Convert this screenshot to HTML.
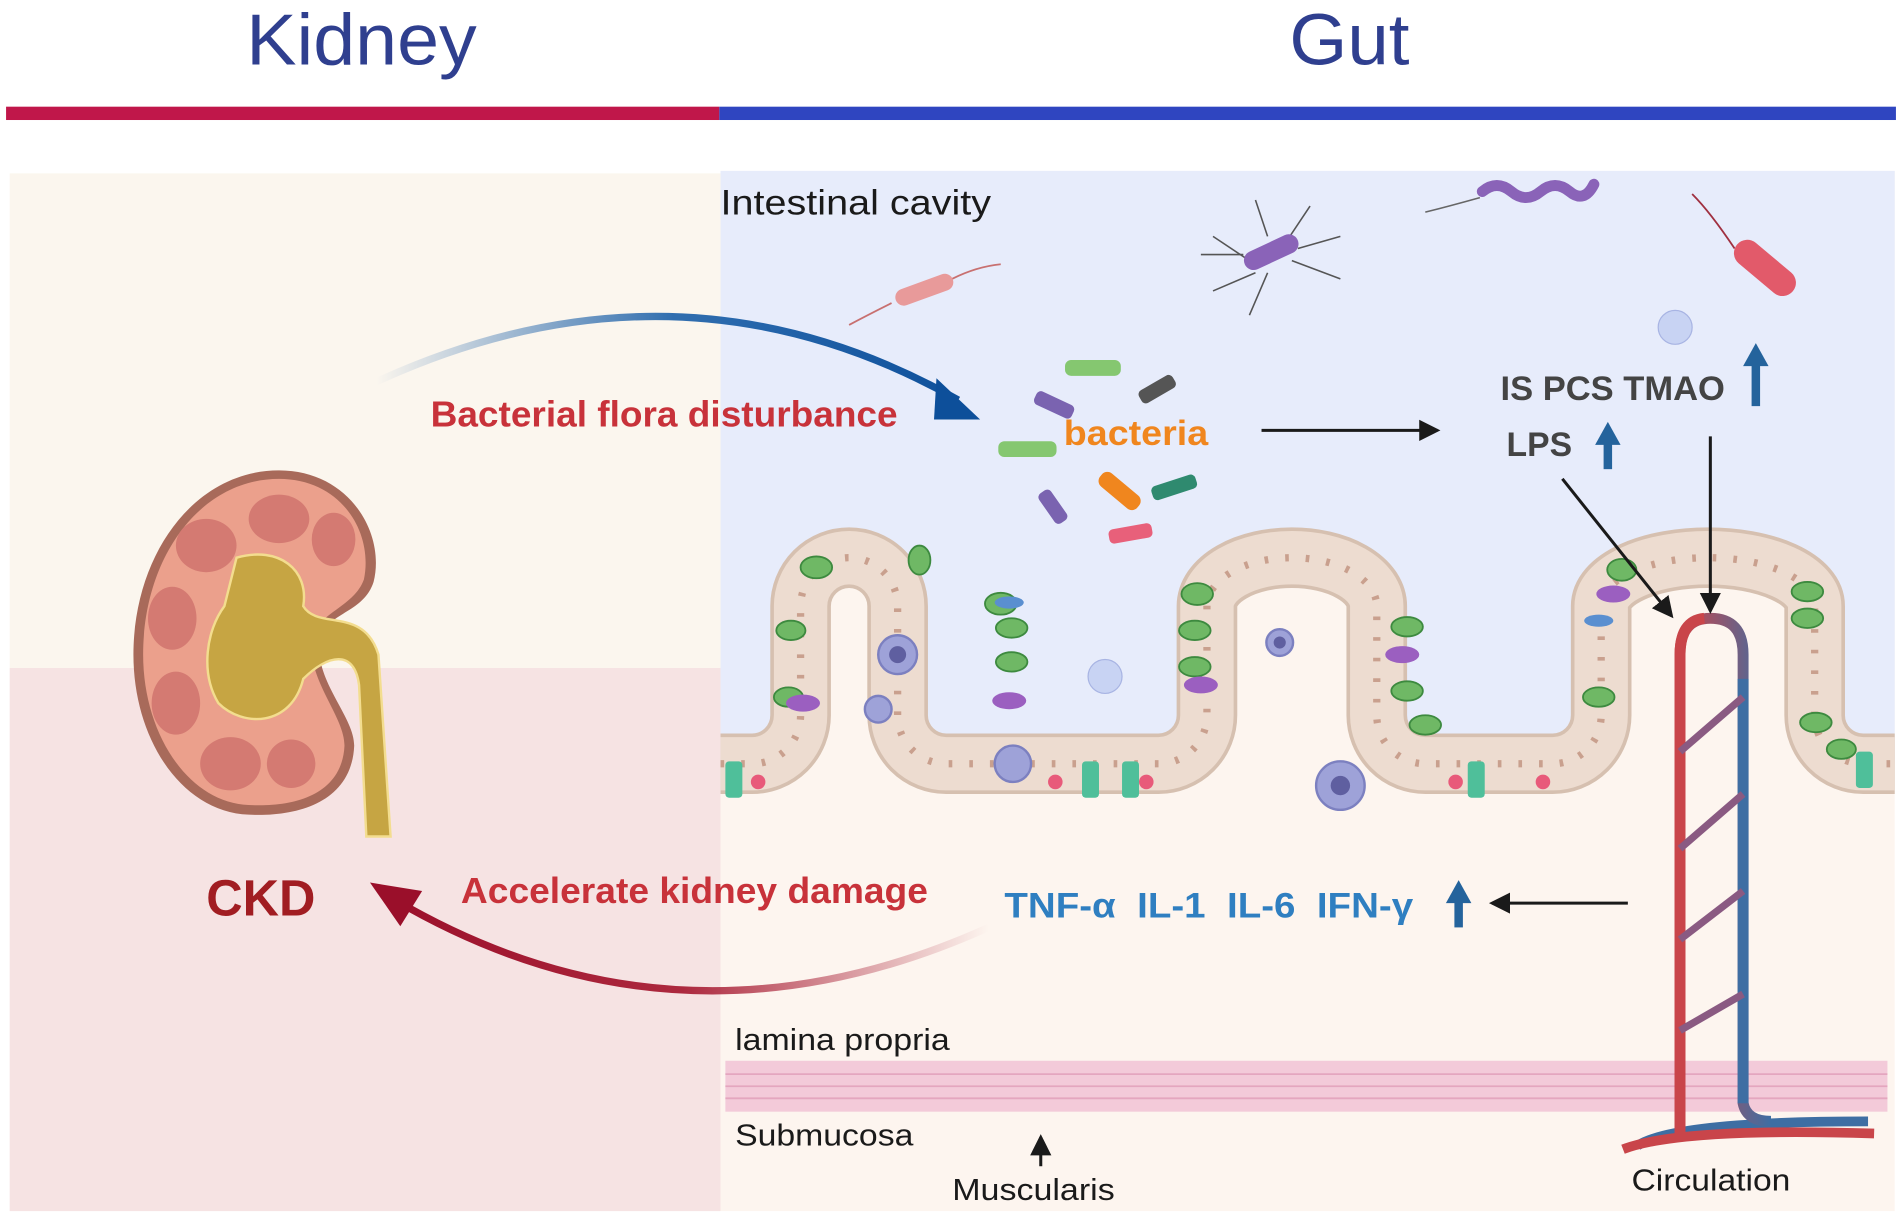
<!DOCTYPE html>
<html><head><meta charset="utf-8"><style>
html,body{margin:0;padding:0;background:#fff;}
svg{display:block;}
text{font-family:"Liberation Sans",sans-serif;}
</style></head><body>
<svg width="1902" height="1222" viewBox="0 0 1568 1008" preserveAspectRatio="none" xmlns="http://www.w3.org/2000/svg">
<defs>
<linearGradient id="g1" x1="310" y1="0" x2="800" y2="0" gradientUnits="userSpaceOnUse">
<stop offset="0" stop-color="#1a5fa8" stop-opacity="0"/><stop offset="0.5" stop-color="#1a5fa8" stop-opacity="0.9"/><stop offset="1" stop-color="#0d4f9a"/></linearGradient>
<linearGradient id="g2" x1="815" y1="0" x2="310" y2="0" gradientUnits="userSpaceOnUse">
<stop offset="0" stop-color="#a4142c" stop-opacity="0"/><stop offset="0.5" stop-color="#a4142c" stop-opacity="0.9"/><stop offset="1" stop-color="#9a0f2a"/></linearGradient>
<linearGradient id="vg" x1="0" y1="0" x2="1" y2="0"><stop offset="0" stop-color="#c9454a"/><stop offset="1" stop-color="#3e6ea3"/></linearGradient>
<marker id="ah" markerWidth="8" markerHeight="8" refX="6" refY="4" orient="auto" markerUnits="strokeWidth"><path d="M0,0.5 L7,4 L0,7.5 Z" fill="#1a1a1a"/></marker>
</defs>
<!-- titles -->
<text x="203" y="53" font-size="60" fill="#2f3f8f" textLength="190" lengthAdjust="spacingAndGlyphs">Kidney</text>
<text x="1063" y="53" font-size="60" fill="#2f3f8f" textLength="99" lengthAdjust="spacingAndGlyphs">Gut</text>
<rect x="5" y="88" width="588" height="11" fill="#c0174a"/>
<rect x="593" y="88" width="970" height="11" fill="#2f45c0"/>
<!-- left panel -->
<rect x="8" y="143" width="586" height="408" fill="#fbf6ee"/>
<rect x="8" y="551" width="586" height="448" fill="#f6e3e3"/>
<!-- right panel -->
<rect x="594" y="141" width="968" height="858" fill="#fdf5ef"/>
<path d="M594,630 H620 A40,40 0 0 0 660,590 V500 A40,40 0 0 1 740,500 V590 A40,40 0 0 0 780,630 H955 A40,40 0 0 0 995,590 V500 A70,40 0 0 1 1135,500 V590 A40,40 0 0 0 1175,630 H1280 A40,40 0 0 0 1320,590 V500 A88,40 0 0 1 1496,500 V590 A40,40 0 0 0 1536,630 H1562 V141 H594 Z" fill="#e7ecfb"/>
<path d="M594,630 H620 A40,40 0 0 0 660,590 V500 A40,40 0 0 1 740,500 V590 A40,40 0 0 0 780,630 H955 A40,40 0 0 0 995,590 V500 A70,40 0 0 1 1135,500 V590 A40,40 0 0 0 1175,630 H1280 A40,40 0 0 0 1320,590 V500 A88,40 0 0 1 1496,500 V590 A40,40 0 0 0 1536,630 H1562" fill="none" stroke="#d6c0b0" stroke-width="50"/>
<path d="M594,630 H620 A40,40 0 0 0 660,590 V500 A40,40 0 0 1 740,500 V590 A40,40 0 0 0 780,630 H955 A40,40 0 0 0 995,590 V500 A70,40 0 0 1 1135,500 V590 A40,40 0 0 0 1175,630 H1280 A40,40 0 0 0 1320,590 V500 A88,40 0 0 1 1496,500 V590 A40,40 0 0 0 1536,630 H1562" fill="none" stroke="#eddcd0" stroke-width="44"/>
<path d="M594,630 H620 A40,40 0 0 0 660,590 V500 A40,40 0 0 1 740,500 V590 A40,40 0 0 0 780,630 H955 A40,40 0 0 0 995,590 V500 A70,40 0 0 1 1135,500 V590 A40,40 0 0 0 1175,630 H1280 A40,40 0 0 0 1320,590 V500 A88,40 0 0 1 1496,500 V590 A40,40 0 0 0 1536,630 H1562" fill="none" stroke="#c9a08e" stroke-width="6" stroke-dasharray="3 14"/>
<!-- goblet cells -->
<g fill="#6fb865" stroke="#3d8a3f" stroke-width="1.5">
<ellipse cx="673" cy="468" rx="13" ry="9"/><ellipse cx="758" cy="462" rx="9" ry="12"/><ellipse cx="652" cy="520" rx="12" ry="8"/><ellipse cx="650" cy="575" rx="12" ry="8"/><ellipse cx="825" cy="498" rx="13" ry="9"/><ellipse cx="834" cy="518" rx="13" ry="8"/><ellipse cx="834" cy="546" rx="13" ry="8"/><ellipse cx="987" cy="490" rx="13" ry="9"/><ellipse cx="985" cy="520" rx="13" ry="8"/><ellipse cx="985" cy="550" rx="13" ry="8"/><ellipse cx="1160" cy="517" rx="13" ry="8"/><ellipse cx="1160" cy="570" rx="13" ry="8"/><ellipse cx="1175" cy="598" rx="13" ry="8"/><ellipse cx="1337" cy="470" rx="12" ry="9"/><ellipse cx="1318" cy="575" rx="13" ry="8"/><ellipse cx="1490" cy="488" rx="13" ry="8"/><ellipse cx="1490" cy="510" rx="13" ry="8"/><ellipse cx="1497" cy="596" rx="13" ry="8"/><ellipse cx="1518" cy="618" rx="12" ry="8"/>
</g>
<g fill="#9b5fc0"><ellipse cx="662" cy="580" rx="14" ry="7"/><ellipse cx="832" cy="578" rx="14" ry="7"/><ellipse cx="990" cy="565" rx="14" ry="7"/><ellipse cx="1156" cy="540" rx="14" ry="7"/><ellipse cx="1330" cy="490" rx="14" ry="7"/></g>
<g fill="#5a8fd0"><ellipse cx="832" cy="497" rx="12" ry="5"/><ellipse cx="1318" cy="512" rx="12" ry="5"/></g>
<g fill="#e85a7a"><circle cx="625" cy="645" r="6"/><circle cx="870" cy="645" r="6"/><circle cx="945" cy="645" r="6"/><circle cx="1200" cy="645" r="6"/><circle cx="1272" cy="645" r="6"/></g>
<g fill="#4fbf9a"><rect x="598" y="628" width="14" height="30" rx="3"/><rect x="892" y="628" width="14" height="30" rx="3"/><rect x="925" y="628" width="14" height="30" rx="3"/><rect x="1210" y="628" width="14" height="30" rx="3"/><rect x="1530" y="620" width="14" height="30" rx="3"/></g>
<!-- immune cells -->
<g fill="#9ea2d8" stroke="#7c80c0" stroke-width="2">
<circle cx="740" cy="540" r="16"/><circle cx="724" cy="585" r="11"/><circle cx="835" cy="630" r="15"/><circle cx="1055" cy="530" r="11"/><circle cx="1105" cy="648" r="20"/></g>
<g fill="#5f5fa0"><circle cx="740" cy="540" r="7"/><circle cx="1105" cy="648" r="8"/><circle cx="1055" cy="530" r="5"/></g>
<circle cx="911" cy="558" r="14" fill="#c8d3f3" stroke="#a8b4e3"/>
<circle cx="1381" cy="270" r="14" fill="#c8d3f3" stroke="#a8b4e3"/>
<!-- muscle layer -->
<rect x="598" y="875" width="958" height="42" fill="#f3cad9"/>
<g stroke="#e4a6bf" stroke-width="1.5"><line x1="598" y1="886" x2="1556" y2="886"/><line x1="598" y1="896" x2="1556" y2="896"/><line x1="598" y1="906" x2="1556" y2="906"/></g>
<!-- vessels -->
<path d="M1350,945 Q1380,925 1540,925" fill="none" stroke="#3e6ea3" stroke-width="8"/>
<path d="M1338,948 Q1385,930 1545,935" fill="none" stroke="#c9454a" stroke-width="8"/>
<path d="M1385,935 V540 Q1385,510 1410,510 Q1437,510 1437,540 V910 Q1440,925 1460,925" fill="none" stroke="url(#vg)" stroke-width="9"/>
<path d="M1385,935 V540 Q1385,512 1405,510" fill="none" stroke="#c9454a" stroke-width="9"/>
<path d="M1437,560 V910" fill="none" stroke="#3e6ea3" stroke-width="9"/>
<g fill="none" stroke="#8a5a82" stroke-width="6">
<path d="M1385,620 L1437,575"/><path d="M1385,700 L1437,655"/><path d="M1385,775 L1437,735"/><path d="M1385,850 L1437,820"/></g>
<!-- bacteria -->
<g fill="none" stroke="#c87070" stroke-width="1.5"><path d="M700,268 q15,-8 35,-18"/><path d="M785,230 q20,-10 40,-12"/></g>
<rect x="737" y="232" width="50" height="14" rx="7" fill="#e89a9a" transform="rotate(-20 762 239)"/>
<g fill="none" stroke="#555" stroke-width="1.3"><path d="M1030,215 l-30,-20"/><path d="M1035,225 l-35,15"/><path d="M1045,225 l-15,35"/><path d="M1060,200 l20,-30"/><path d="M1070,205 l35,-10"/><path d="M1065,215 l40,15"/><path d="M1045,195 l-10,-30"/><path d="M1025,210 l-35,0"/></g>
<rect x="1024" y="200" width="48" height="16" rx="8" fill="#8a63b8" transform="rotate(-25 1048 208)"/>
<path d="M1175,175 q20,-5 45,-12" fill="none" stroke="#666" stroke-width="1.3"/>
<path d="M1222,158 q12,-10 24,0 t24,0 t24,0 t20,-6" fill="none" stroke="#8a63b8" stroke-width="9" stroke-linecap="round"/>
<path d="M1430,205 q-20,-30 -35,-45" fill="none" stroke="#a03040" stroke-width="1.5"/>
<rect x="1425" y="210" width="60" height="22" rx="11" fill="#e25a6a" transform="rotate(40 1455 221)"/>
<rect x="878" y="297" width="46" height="13" rx="5" fill="#85c770"/>
<rect x="852" y="328" width="34" height="12" rx="4" fill="#7a63b0" transform="rotate(25 869 334)"/>
<rect x="938" y="315" width="32" height="12" rx="4" fill="#555" transform="rotate(-30 954 321)"/>
<rect x="823" y="364" width="48" height="13" rx="5" fill="#85c770"/>
<rect x="853" y="412" width="30" height="12" rx="4" fill="#7a63b0" transform="rotate(55 868 418)"/>
<rect x="903" y="398" width="40" height="14" rx="6" fill="#f0861e" transform="rotate(40 923 405)"/>
<rect x="949" y="396" width="38" height="12" rx="4" fill="#2f8a6f" transform="rotate(-18 968 402)"/>
<rect x="914" y="434" width="36" height="12" rx="4" fill="#e8607a" transform="rotate(-10 932 440)"/>
<!-- kidney -->
<path d="M230,388 C288,388 318,440 308,480 C300,505 272,505 264,525 C257,560 292,590 292,615 C290,662 245,674 205,672 C150,670 110,610 110,540 C110,458 160,388 230,388 Z" fill="#a86a5a"/>
<path d="M230,395 C282,395 308,440 300,478 C292,500 264,505 257,525 C252,560 284,590 284,615 C282,657 240,666 205,664 C155,662 118,605 118,540 C118,460 165,395 230,395 Z" fill="#eba08c"/>
<g fill="#d47a72"><ellipse cx="230" cy="428" rx="25" ry="20"/><ellipse cx="170" cy="450" rx="25" ry="22"/><ellipse cx="142" cy="510" rx="20" ry="26"/><ellipse cx="145" cy="580" rx="20" ry="26"/><ellipse cx="190" cy="630" rx="25" ry="22"/><ellipse cx="275" cy="445" rx="18" ry="22"/><ellipse cx="240" cy="630" rx="20" ry="20"/></g>
<path d="M195,460 C230,450 255,470 250,500 C262,520 300,500 312,540 L322,690 L302,690 L296,565 C292,535 270,540 250,560 C240,600 200,600 180,580 C165,555 170,520 185,500 Z" fill="#c6a543" stroke="#f3dd8f" stroke-width="2"/>
<!-- arrows -->
<path d="M310,315 Q560,200 790,330" fill="none" stroke="url(#g1)" stroke-width="6"/>
<path d="M772,312 L808,346 L770,346 Z" fill="#0d4f9a"/>
<path d="M815,765 Q560,880 325,742" fill="none" stroke="url(#g2)" stroke-width="6"/>
<path d="M305,728 L348,735 L330,764 Z" fill="#9a0f2a"/>
<g stroke="#1a1a1a" stroke-width="2.5" fill="none">
<line x1="1040" y1="355" x2="1185" y2="355" marker-end="url(#ah)"/>
<line x1="1288" y1="395" x2="1378" y2="508" marker-end="url(#ah)"/>
<line x1="1410" y1="360" x2="1410" y2="504" marker-end="url(#ah)"/>
<line x1="1342" y1="745" x2="1230" y2="745" marker-end="url(#ah)"/>
<line x1="858" y1="962" x2="858" y2="938" marker-end="url(#ah)"/>
</g>
<g fill="#24639c">
<rect x="1444" y="300" width="7" height="35"/><path d="M1437,302 L1447.5,283 L1458,302 Z"/>
<rect x="1322" y="365" width="7" height="22"/><path d="M1315,367 L1325.5,348 L1336,367 Z"/>
<rect x="1199" y="743" width="7" height="22"/><path d="M1192,745 L1202.5,726 L1213,745 Z"/>
</g>
<!-- text -->
<text x="594" y="177" font-size="29" fill="#1a1a1a" textLength="223" lengthAdjust="spacingAndGlyphs">Intestinal cavity</text>
<text x="355" y="352" font-size="30" font-weight="bold" fill="#c8323a" textLength="385" lengthAdjust="spacingAndGlyphs">Bacterial flora disturbance</text>
<text x="877" y="367" font-size="29" font-weight="bold" fill="#f0861e" textLength="119" lengthAdjust="spacingAndGlyphs">bacteria</text>
<text x="1237" y="330" font-size="28" font-weight="bold" fill="#444" textLength="185" lengthAdjust="spacingAndGlyphs">IS PCS TMAO</text>
<text x="1242" y="376" font-size="28" font-weight="bold" fill="#444" textLength="54" lengthAdjust="spacingAndGlyphs">LPS</text>
<text x="170" y="755" font-size="42" font-weight="bold" fill="#a11d22" textLength="90" lengthAdjust="spacingAndGlyphs">CKD</text>
<text x="380" y="745" font-size="30" font-weight="bold" fill="#c8323a" textLength="385" lengthAdjust="spacingAndGlyphs">Accelerate kidney damage</text>
<text x="828" y="757" font-size="29" font-weight="bold" fill="#2f7fc1" xml:space="preserve" textLength="337" lengthAdjust="spacingAndGlyphs">TNF-α  IL-1  IL-6  IFN-γ</text>
<text x="606" y="866" font-size="25" fill="#1a1a1a" textLength="177" lengthAdjust="spacingAndGlyphs">lamina propria</text>
<text x="606" y="945" font-size="25" fill="#1a1a1a" textLength="147" lengthAdjust="spacingAndGlyphs">Submucosa</text>
<text x="785" y="990" font-size="25" fill="#1a1a1a" textLength="134" lengthAdjust="spacingAndGlyphs">Muscularis</text>
<text x="1345" y="982" font-size="25" fill="#1a1a1a" textLength="131" lengthAdjust="spacingAndGlyphs">Circulation</text>
</svg>
</body></html>
